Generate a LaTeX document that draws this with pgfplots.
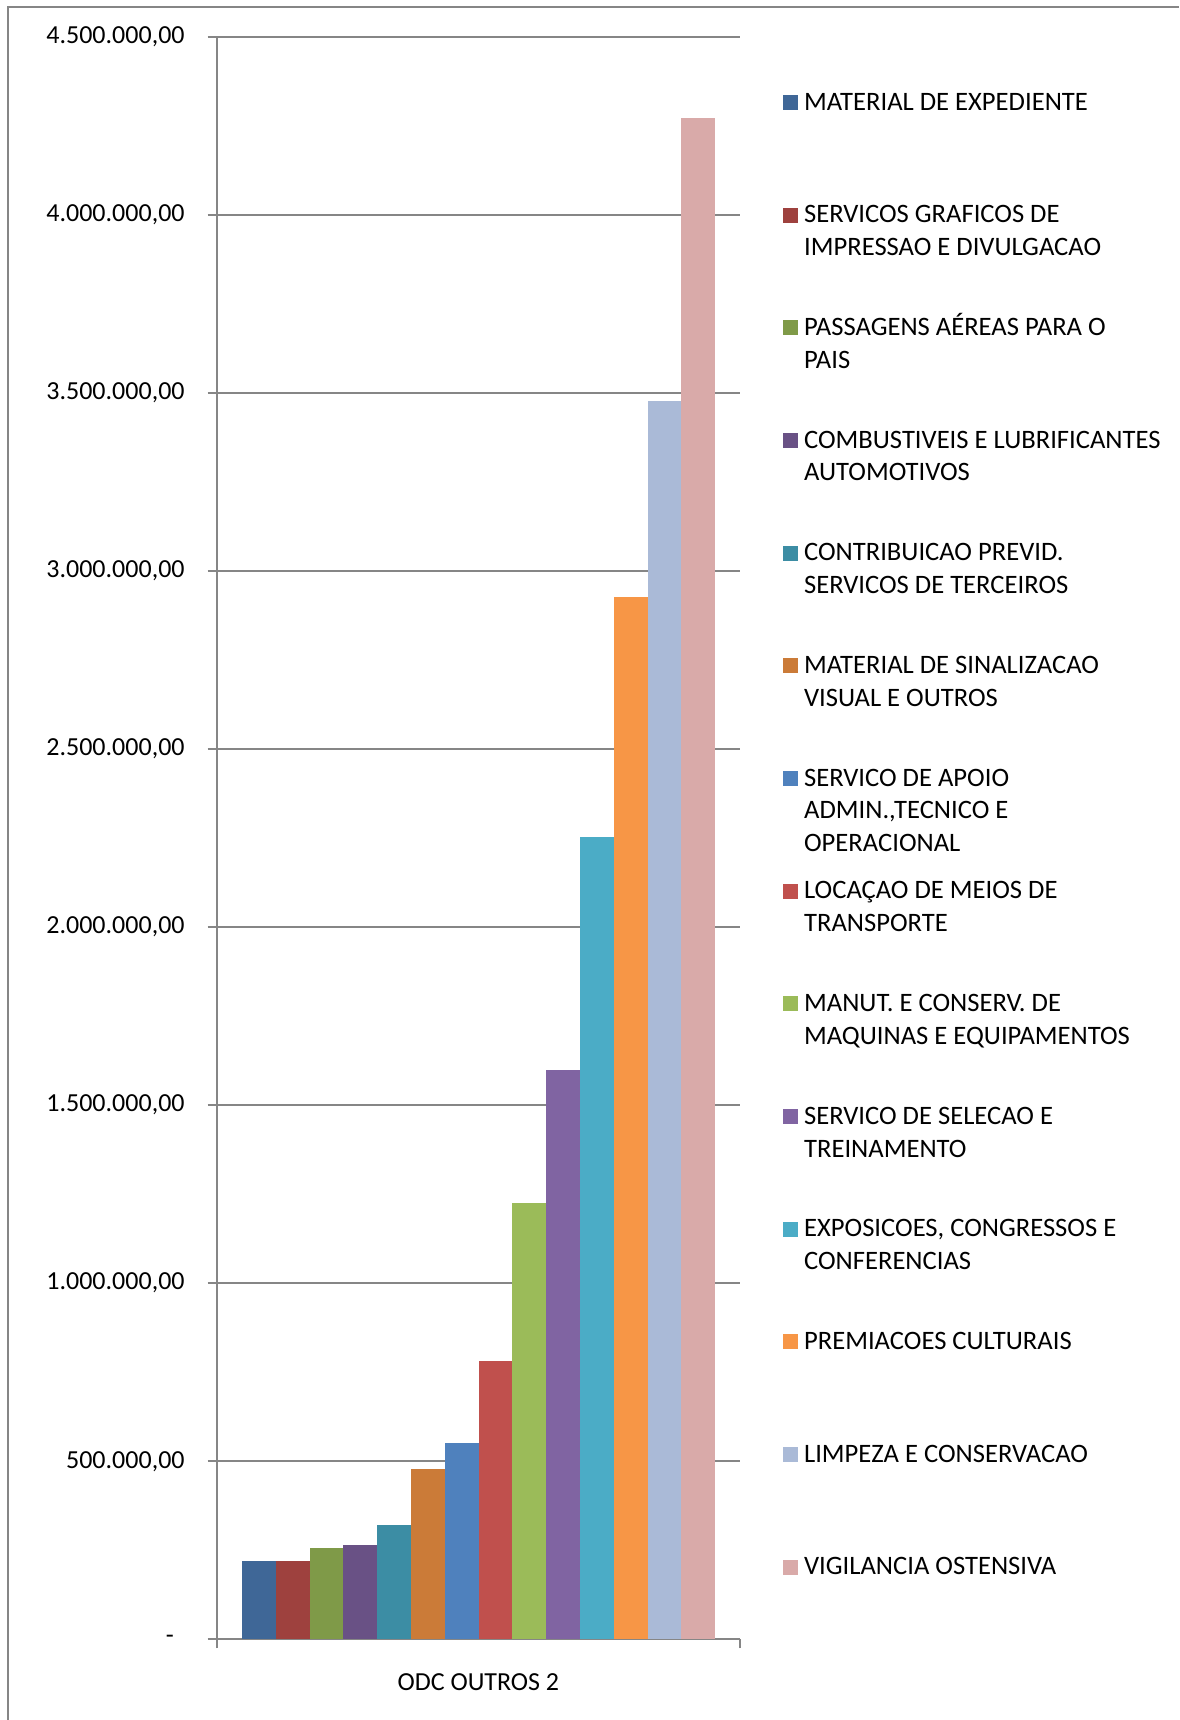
\documentclass[border=0pt]{standalone}
\usepackage{fontspec}
\setmainfont{Carlito}
\usepackage{pgfplots}
\pgfplotsset{compat=1.18}
\definecolor{gridgray}{HTML}{868686}
\definecolor{c1}{HTML}{3F6797}
\definecolor{c2}{HTML}{9E413E}
\definecolor{c3}{HTML}{7F9A48}
\definecolor{c4}{HTML}{695185}
\definecolor{c5}{HTML}{3C8DA4}
\definecolor{c6}{HTML}{CB7B38}
\definecolor{c7}{HTML}{4F81BD}
\definecolor{c8}{HTML}{C0504D}
\definecolor{c9}{HTML}{9BBB59}
\definecolor{c10}{HTML}{8064A2}
\definecolor{c11}{HTML}{4BACC6}
\definecolor{c12}{HTML}{F79646}
\definecolor{c13}{HTML}{AABAD7}
\definecolor{c14}{HTML}{D9AAA9}
\newcommand{\LE}[1]{\parbox[t]{220pt}{\rule{0pt}{11.5pt}#1}}
\begin{document}
\begin{tikzpicture}
\path[use as bounding box] (0pt,0pt) rectangle (589.5pt,860pt);
\draw[color=gridgray, line width=1pt] (4pt,0pt) -- (4pt,856.5pt) -- (589.5pt,856.5pt);
\begin{axis}[
  at={(108.35pt,40.35pt)}, anchor=south west,
  scale only axis, width=261.65pt, height=801.3pt,
  xmin=216.7, xmax=740, ymin=0, ymax=4500000,
  axis x line*=bottom, axis y line*=left,
  axis line style={color=gridgray, line width=1pt},
  ybar, bar width=33.786,
  legend image code/.code={\fill[#1,draw=none] (0pt,0pt) rectangle (7.5pt,7.5pt);},
  xtick={216.7,740}, xticklabels={,},
  ytick={0,500000,1000000,1500000,2000000,2500000,3000000,3500000,4000000,4500000},
  yticklabels={{-\rule{5.4pt}{0pt}},{500.000,00},{1.000.000,00},{1.500.000,00},{2.000.000,00},{2.500.000,00},{3.000.000,00},{3.500.000,00},{4.000.000,00},{4.500.000,00}},
  scaled y ticks=false,
  ymajorgrids, grid style={color=gridgray, line width=1pt},
  tick align=outside, major tick length=4.5pt,
  tick style={color=gridgray, line width=1pt},
  yticklabel style={font=\fontsize{13}{15}\selectfont, inner sep=0pt, xshift=-11.35pt},
  xlabel={ODC OUTROS 2},
  xlabel style={at={(axis description cs:0.5,0)}, anchor=base, yshift=-25.35pt, font=\fontsize{13}{15}\selectfont, inner sep=0pt},
  legend cell align=left,
  legend style={at={(1.08217,0.96861)}, anchor=north west, draw=none, fill=none, inner sep=0pt, outer sep=0pt, row sep=43.34pt, column sep=3pt, nodes={inner sep=0pt, outer sep=0pt}, cells={anchor=base west}, font=\fontsize{13.3}{16.45}\selectfont},
]
\addplot[fill=c1, draw=none, bar shift=0pt] coordinates {(258.89,220000)};
\addlegendentry{\LE{MATERIAL DE EXPEDIENTE}}
\addplot[fill=c2, draw=none, bar shift=0pt] coordinates {(292.68,220000)};
\addlegendentry{\LE{SERVICOS GRAFICOS DE\\IMPRESSAO E DIVULGACAO}}
\addplot[fill=c3, draw=none, bar shift=0pt] coordinates {(326.46,257000)};
\addlegendentry{\LE{PASSAGENS AÉREAS PARA O\\PAIS}}
\addplot[fill=c4, draw=none, bar shift=0pt] coordinates {(360.25,265000)};
\addlegendentry{\LE{COMBUSTIVEIS E LUBRIFICANTES\\AUTOMOTIVOS}}
\addplot[fill=c5, draw=none, bar shift=0pt] coordinates {(394.04,321000)};
\addlegendentry{\LE{CONTRIBUICAO PREVID.\\SERVICOS DE TERCEIROS}}
\addplot[fill=c6, draw=none, bar shift=0pt] coordinates {(427.82,479000)};
\addlegendentry{\LE{MATERIAL DE SINALIZACAO\\VISUAL E OUTROS}}
\addplot[fill=c7, draw=none, bar shift=0pt] coordinates {(461.61,550000)};
\addlegendentry{\LE{SERVICO DE APOIO\\ADMIN.,TECNICO E\\OPERACIONAL}}
\addplot[fill=c8, draw=none, bar shift=0pt] coordinates {(495.39,782000)};
\addlegendentry{\LE{LOCAÇAO DE MEIOS DE\\TRANSPORTE}}
\addplot[fill=c9, draw=none, bar shift=0pt] coordinates {(529.18,1225000)};
\addlegendentry{\LE{MANUT. E CONSERV. DE\\MAQUINAS E EQUIPAMENTOS}}
\addplot[fill=c10, draw=none, bar shift=0pt] coordinates {(562.96,1599000)};
\addlegendentry{\LE{SERVICO DE SELECAO E\\TREINAMENTO}}
\addplot[fill=c11, draw=none, bar shift=0pt] coordinates {(596.75,2253000)};
\addlegendentry{\LE{EXPOSICOES, CONGRESSOS E\\CONFERENCIAS}}
\addplot[fill=c12, draw=none, bar shift=0pt] coordinates {(630.54,2927000)};
\addlegendentry{\LE{PREMIACOES CULTURAIS}}
\addplot[fill=c13, draw=none, bar shift=0pt] coordinates {(664.32,3476000)};
\addlegendentry{\LE{LIMPEZA E CONSERVACAO}}
\addplot[fill=c14, draw=none, bar shift=0pt] coordinates {(698.11,4272000)};
\addlegendentry{\LE{VIGILANCIA OSTENSIVA}}
\end{axis}
\end{tikzpicture}
\end{document}
